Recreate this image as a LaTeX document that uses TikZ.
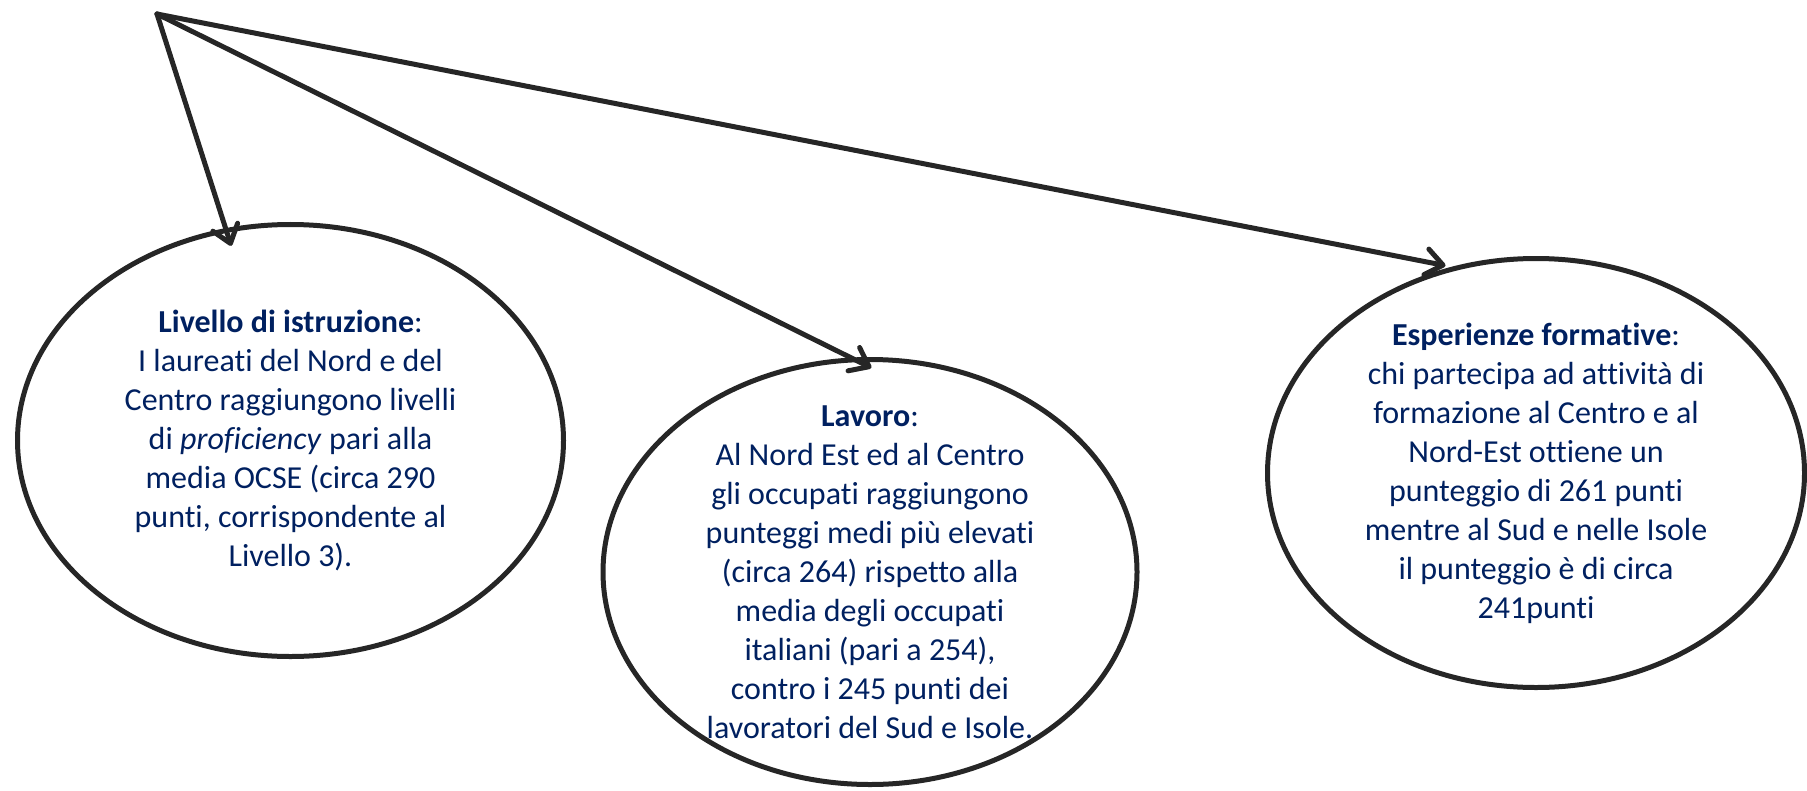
\documentclass[tikz,border=0pt]{standalone}
\usepackage{fontspec}
\setmainfont{Carlito}[Ligatures=NoCommon]
\usepackage{xcolor}
\usepackage{tikz}
\usetikzlibrary{shapes,arrows.meta,positioning}
\definecolor{navy}{RGB}{0,32,96}
\definecolor{linegray}{RGB}{38,38,38}

\begin{document}
\begin{tikzpicture}[x=0.5pt, y=-0.5pt,
  bubble/.style={ellipse, draw=linegray, line width=2.5pt, inner sep=0pt, outer sep=0pt},
  blurb/.style={align=center, text=navy, inner sep=0pt, font=\fontsize{16}{19.5}\selectfont},
  arr/.style={-{Straight Barb[length=8.5pt, width=13pt, round]}, draw=linegray, line width=2.5pt, line cap=round}]
\useasboundingbox (0,0) rectangle (1807,791);
\coordinate (src) at (157,14);
\node[bubble, minimum width=273pt, minimum height=216pt] (lvl) at (290.5,440.5) {};
\node[bubble, minimum width=267pt, minimum height=212.5pt] (job) at (870,572) {};
\node[bubble, minimum width=268.5pt, minimum height=214.5pt] (exp) at (1536,473) {};
\node[blurb] (lvltxt) at (lvl) {\textbf{Livello di istruzione}:\\ I laureati del Nord e del\\ Centro raggiungono livelli\\ di \textit{proficiency} pari alla\\ media OCSE (circa 290\\ punti, corrispondente al\\ Livello 3).};
\node[blurb] (jobtxt) at (job) {\textbf{Lavoro}:\\ Al Nord Est ed al Centro\\ gli occupati raggiungono\\ punteggi medi più elevati\\ (circa 264) rispetto alla\\ media degli occupati\\ italiani (pari a 254),\\ contro i 245 punti dei\\ lavoratori del Sud e Isole.};
\node[blurb] (exptxt) at (exp) {\textbf{Esperienze formative}:\\ chi partecipa ad attività di\\ formazione al Centro e al\\ Nord-Est ottiene un\\ punteggio di 261 punti\\ mentre al Sud e nelle Isole\\ il punteggio è di circa\\ 241punti};
\draw[arr, shorten >=-8pt] (src)--(lvl.107); \draw[arr, shorten >=-9pt] (src)--(job.94); \draw[arr, shorten >=6pt] (src)--(exp.111);
\end{tikzpicture}
\end{document}
